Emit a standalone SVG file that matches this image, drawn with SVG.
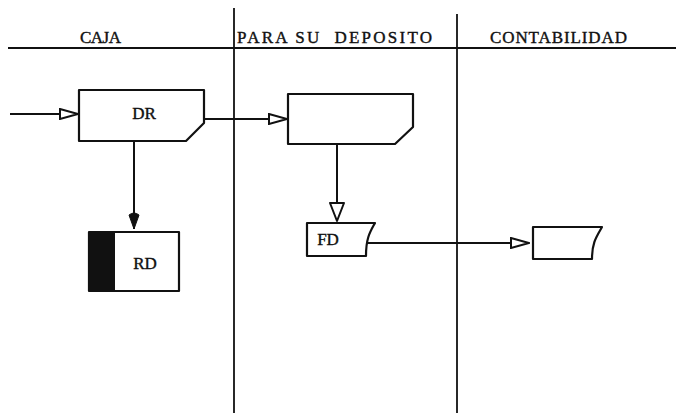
<svg xmlns="http://www.w3.org/2000/svg" width="676" height="413" viewBox="0 0 676 413">
<style>
.t{font-family:"Liberation Serif","DejaVu Serif",serif;font-size:17px;fill:#111;stroke:#111;stroke-width:0.4;white-space:pre}
.l{font-family:"Liberation Serif","DejaVu Serif",serif;font-size:17px;fill:#111;stroke:#111;stroke-width:0.4;text-anchor:middle}
.s{fill:#fff;stroke:#111;stroke-width:2.2;stroke-linejoin:round}
.c{fill:none;stroke:#111;stroke-width:2}
.g{stroke:#111;stroke-width:1.8;fill:none}
</style>
<defs>
<marker id="oa" viewBox="0 0 20 12" refX="19" refY="6" markerWidth="20" markerHeight="12" markerUnits="userSpaceOnUse" orient="auto">
<path d="M1,1 L19,6 L1,11 Z" fill="#fff" stroke="#111" stroke-width="2"/>
</marker>
<marker id="fa" viewBox="0 0 18 12" refX="17" refY="6" markerWidth="18" markerHeight="12" markerUnits="userSpaceOnUse" orient="auto">
<path d="M3,1 Q-1,6 3,11 L17,6 Z" fill="#111" stroke="#111" stroke-width="1"/>
</marker>
</defs>
<g id="grid">
<line class="g" x1="8" y1="48" x2="676" y2="48"/>
<line class="g" x1="234" y1="8" x2="234" y2="413"/>
<line class="g" x1="457" y1="14" x2="457" y2="413"/>
</g>
<g id="headers">
<text class="t" x="80" y="43" textLength="41" lengthAdjust="spacing">CAJA</text>
<text class="t" x="237" y="43" textLength="195" lengthAdjust="spacing">PARA SU  DEPOSITO</text>
<text class="t" x="490" y="43" textLength="137" lengthAdjust="spacing">CONTABILIDAD</text>
</g>
<g id="connectors">
<line class="c" x1="10" y1="114" x2="78" y2="114" marker-end="url(#oa)"/>
<line class="c" x1="204" y1="119" x2="287" y2="119" marker-end="url(#oa)"/>
<line class="c" x1="134" y1="141" x2="134" y2="229" marker-end="url(#fa)"/>
<path class="c" d="M337,144 L337,204"/>
<path d="M330,203 L344,203 L337,221 Z" fill="#fff" stroke="#111" stroke-width="2" stroke-linejoin="round"/>
<line class="c" x1="366" y1="243" x2="529" y2="243" marker-end="url(#oa)"/>
</g>
<g id="DR">
<path class="s" d="M79,90 L204,90 L204,123 L186,141 L79,141 Z"/>
<text class="l" x="144" y="119">DR</text>
</g>
<g id="BOX2">
<path class="s" d="M288,94 L413,94 L413,127 L395,144 L288,144 Z"/>
</g>
<g id="RD">
<rect class="s" x="89" y="232" width="90" height="59"/>
<rect x="89" y="232" width="26" height="59" fill="#111"/>
<text class="l" x="145" y="269">RD</text>
</g>
<g id="FD">
<path class="s" d="M307,223 L375,223 C370,232 366,238 366,256 L307,256 Z"/>
<text class="l" x="328" y="245" font-size="16">FD</text>
</g>
<g id="BOX3">
<path class="s" d="M533,227 L602,227 C597,236 592,242 592,259 L533,259 Z"/>
</g>
</svg>
